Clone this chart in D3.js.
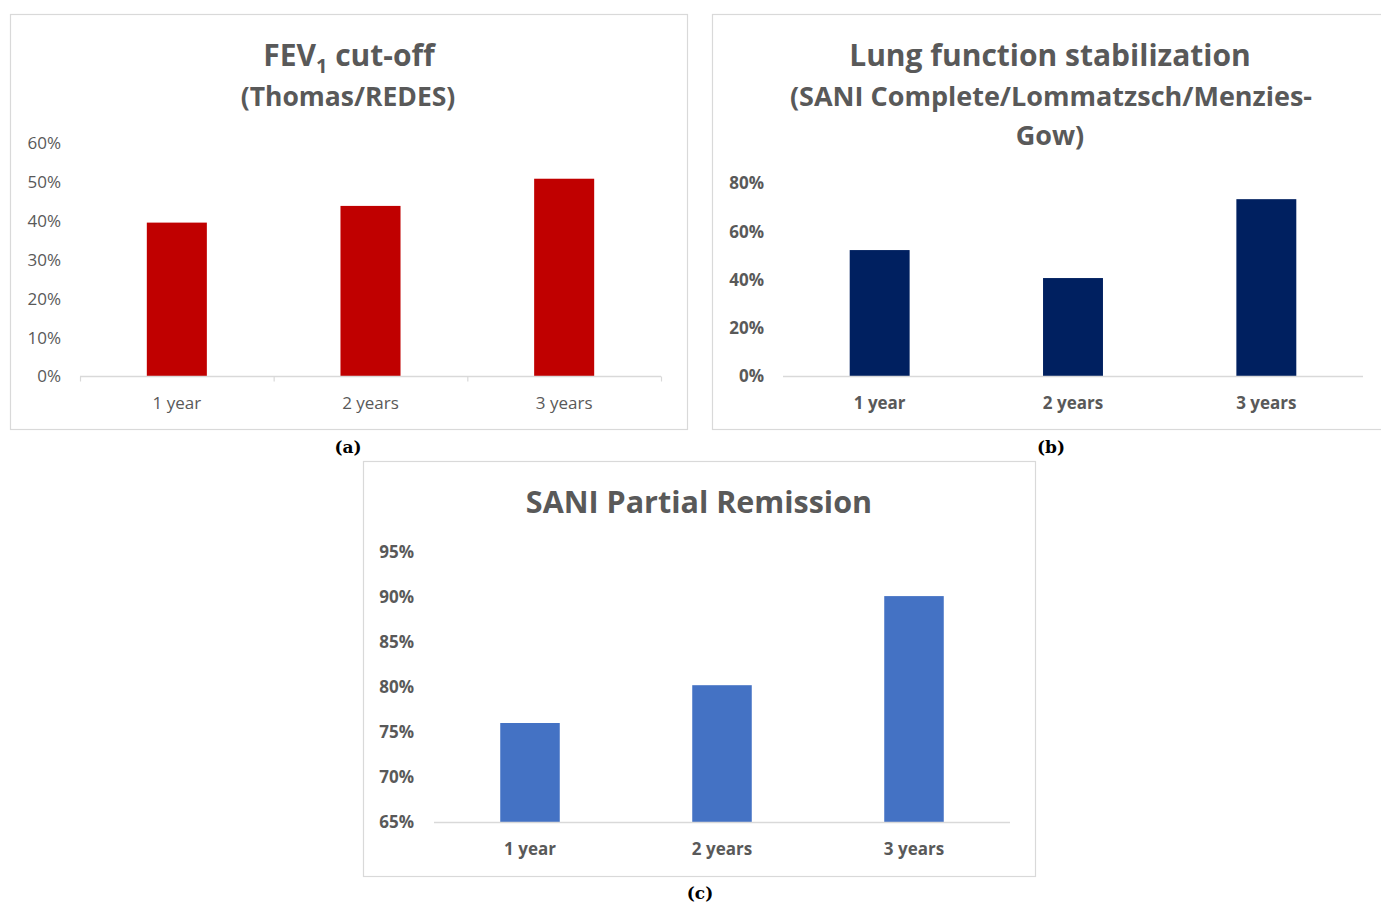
<!DOCTYPE html>
<html>
<head>
<meta charset="utf-8">
<script src="https://cdn.jsdelivr.net/npm/d3@7"></script>
<style>
  body { margin: 0; background: #fff; }
  text { font-family: "Open Sans", Lato, sans-serif; }
</style>
</head>
<body>
<script>
// data
const categories = ['1 year', '2 years', '3 years'];
const fevValues = [0.395, 0.438, 0.508];
const lungValues = [0.522, 0.406, 0.733];
const remissionValues = [0.760, 0.802, 0.901];

const fevTicks = [0, 0.1, 0.2, 0.3, 0.4, 0.5, 0.6];
const lungTicks = [0, 0.2, 0.4, 0.6, 0.8];
const remissionTicks = [0.65, 0.70, 0.75, 0.80, 0.85, 0.90, 0.95];

const width = 1381,
    height = 904;

const svg = d3.select('body').append('svg')
    .attr('width', width)
    .attr('height', height);

const grey = '#595959';
const font = '"Open Sans", sans-serif';

function drawPanel(opt) {
    const g = svg.append('g');

    // frame
    g.append('rect')
        .attr('x', opt.box[0] + 0.5)
        .attr('y', opt.box[1] + 0.5)
        .attr('width', opt.box[2])
        .attr('height', opt.box[3])
        .attr('fill', 'none')
        .attr('stroke', '#d9d9d9')
        .attr('stroke-width', 1.2);

    const x = d3.scaleBand()
        .domain(categories)
        .range([opt.left, opt.right])
        .paddingInner(0.69)
        .paddingOuter(0.345);

    const y = d3.scaleLinear()
        .domain([opt.ticks[0], opt.ticks[opt.ticks.length - 1]])
        .range([opt.base, opt.top]);

    // bars
    g.selectAll('rect.bar')
        .data(opt.values)
        .enter().append('rect')
        .attr('class', 'bar')
        .attr('x', function (d, i) { return x(categories[i]); })
        .attr('width', x.bandwidth())
        .attr('y', function (d) { return y(d); })
        .attr('height', function (d) { return y(opt.ticks[0]) - y(d); })
        .attr('fill', opt.color);

    // y axis
    const yAxis = g.append('g')
        .attr('transform', 'translate(' + opt.labelRight + ',0)')
        .call(d3.axisLeft(y).tickValues(opt.ticks).tickSize(0).tickFormat(d3.format('.0%')));
    yAxis.select('.domain').remove();
    yAxis.selectAll('text')
        .attr('x', 0)
        .attr('dy', '0.35em')
        .style('font-size', '17px')
        .style('font-weight', opt.bold ? 700 : 400)
        .style('font-family', font)
        .attr('fill', grey);

    // x axis line
    g.append('line')
        .attr('x1', opt.left).attr('x2', opt.right)
        .attr('y1', opt.base + 0.5).attr('y2', opt.base + 0.5)
        .attr('stroke', '#d9d9d9')
        .attr('stroke-width', 1.5);

    if (opt.tickMarks) {
        const xt = d3.scaleLinear().domain([0, categories.length]).range([opt.left, opt.right]);
        const tk = g.append('g')
            .attr('transform', 'translate(0,' + (opt.base + 0.5) + ')')
            .call(d3.axisBottom(xt).tickValues(d3.range(categories.length + 1)).tickSize(5).tickFormat(''));
        tk.select('.domain').remove();
        tk.selectAll('line').attr('stroke', '#d9d9d9').attr('stroke-width', 1.2);
    }

    const xAxis = g.append('g')
        .attr('transform', 'translate(0,' + opt.base + ')')
        .call(d3.axisBottom(x).tickSize(0).tickPadding(21));
    xAxis.select('.domain').remove();
    xAxis.selectAll('text')
        .style('font-size', '17px')
        .style('font-weight', opt.bold ? 700 : 400)
        .style('font-family', font)
        .attr('fill', grey);

    // title
    opt.title(g);

    // panel letter
    g.append('text')
        .attr('x', opt.letter[0])
        .attr('y', opt.letter[1])
        .attr('text-anchor', 'middle')
        .style('font-family', '"DejaVu Serif", "Liberation Serif", serif')
        .style('font-weight', 700)
        .style('font-size', '17px')
        .attr('fill', '#000')
        .text(opt.letter[2]);
}

function titleLine(g, cx, y, size, txt) {
    return g.append('text')
        .attr('x', cx)
        .attr('y', y)
        .attr('text-anchor', 'middle')
        .style('font-size', size + 'px')
        .style('font-weight', 700)
        .style('font-family', font)
        .attr('fill', grey)
        .text(txt);
}

drawPanel({
    box: [10, 14, 677, 415],
    left: 80, right: 661, base: 376, top: 143, labelRight: 61,
    ticks: fevTicks, values: fevValues, color: '#c00000',
    bold: false, tickMarks: true,
    letter: [348, 453, '(a)'],
    title: function (g) {
        const t = g.append('text')
            .attr('x', 349)
            .attr('y', 66)
            .attr('text-anchor', 'middle')
            .style('font-size', '30px')
            .style('font-weight', 700)
            .style('font-family', font)
            .attr('fill', grey);
        t.append('tspan').text('FEV');
        t.append('tspan').attr('dy', 7).style('font-size', '20px').text('1');
        t.append('tspan').attr('dy', -7).text(' cut-off');
        titleLine(g, 348, 106, 26.5, '(Thomas/REDES)');
    }
});

drawPanel({
    box: [712, 14, 680, 415],
    left: 783, right: 1363, base: 376, top: 183, labelRight: 764,
    ticks: lungTicks, values: lungValues, color: '#002060',
    bold: true, tickMarks: false,
    letter: [1051, 453, '(b)'],
    title: function (g) {
        titleLine(g, 1050, 66, 30, 'Lung function stabilization');
        titleLine(g, 1051, 106, 27, '(SANI Complete/Lommatzsch/Menzies-');
        titleLine(g, 1050, 145, 27, 'Gow)');
    }
});

drawPanel({
    box: [363, 461, 672, 415],
    left: 434, right: 1010, base: 822, top: 552, labelRight: 414,
    ticks: remissionTicks, values: remissionValues, color: '#4472c4',
    bold: true, tickMarks: false,
    letter: [700, 899, '(c)'],
    title: function (g) {
        titleLine(g, 699, 513, 30.5, 'SANI Partial Remission');
    }
});
</script>
</body>
</html>
